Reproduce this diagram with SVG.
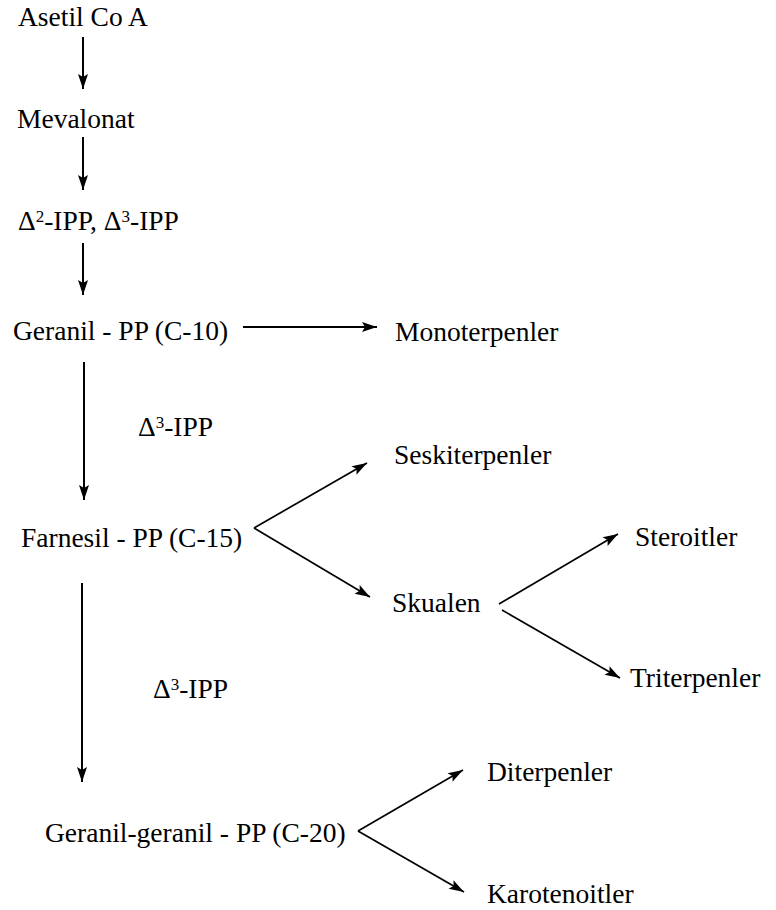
<svg xmlns="http://www.w3.org/2000/svg" width="776" height="910" viewBox="0 0 776 910">
<style>
text{font-family:"Liberation Serif","Times New Roman",serif;font-size:27.5px;fill:#000}
.sup{font-size:17px}
.c line{stroke:#000;stroke-width:2;fill:none}
.c line.d{stroke-width:1.7}
</style>
<defs>
<marker id="ah" markerUnits="userSpaceOnUse" markerWidth="16" markerHeight="12" refX="15" refY="5" orient="auto" overflow="visible">
<path d="M0,0 L15,5 L0,10 L3,5 z" fill="#000"/>
</marker>
</defs>
<rect width="776" height="910" fill="#fff"/>
<g class="c" id="connectors">
<line x1="83" y1="37" x2="83" y2="89" marker-end="url(#ah)"/>
<line x1="83" y1="137" x2="83" y2="190" marker-end="url(#ah)"/>
<line x1="83" y1="243" x2="83" y2="295" marker-end="url(#ah)"/>
<line x1="243" y1="327" x2="377" y2="327" marker-end="url(#ah)"/>
<line x1="84" y1="362" x2="84" y2="500" marker-end="url(#ah)"/>
<line class="d" x1="254" y1="528" x2="367" y2="463" marker-end="url(#ah)"/>
<line class="d" x1="254" y1="528" x2="370" y2="597" marker-end="url(#ah)"/>
<line class="d" x1="499" y1="604" x2="618" y2="534" marker-end="url(#ah)"/>
<line class="d" x1="502" y1="610" x2="620" y2="678" marker-end="url(#ah)"/>
<line x1="82" y1="583" x2="82" y2="782" marker-end="url(#ah)"/>
<line class="d" x1="358" y1="831" x2="463" y2="770" marker-end="url(#ah)"/>
<line class="d" x1="358" y1="831" x2="464" y2="892" marker-end="url(#ah)"/>
</g>
<g id="n-asetil"><text x="18" y="26">Asetil Co A</text></g>
<g id="n-mevalonat"><text x="17" y="128">Mevalonat</text></g>
<g id="n-ipp"><text x="18" y="230">Δ<tspan class="sup" dy="-8">2</tspan><tspan dy="8">-IPP, Δ</tspan><tspan class="sup" dy="-8">3</tspan><tspan dy="8">-IPP</tspan></text></g>
<g id="n-geranil"><text x="13" y="340">Geranil - PP (C-10)</text></g>
<g id="n-mono"><text x="395" y="341">Monoterpenler</text></g>
<g id="l-ipp1"><text x="138" y="436">Δ<tspan class="sup" dy="-8">3</tspan><tspan dy="8">-IPP</tspan></text></g>
<g id="n-farnesil"><text x="21" y="547">Farnesil - PP (C-15)</text></g>
<g id="n-seski"><text x="394" y="464">Seskiterpenler</text></g>
<g id="n-skualen"><text x="392" y="612">Skualen</text></g>
<g id="n-steroit"><text x="635" y="546">Steroitler</text></g>
<g id="n-triterp"><text x="630" y="687">Triterpenler</text></g>
<g id="l-ipp2"><text x="153" y="698">Δ<tspan class="sup" dy="-8">3</tspan><tspan dy="8">-IPP</tspan></text></g>
<g id="n-gg"><text x="45" y="842">Geranil-geranil - PP (C-20)</text></g>
<g id="n-diterp"><text x="487" y="781">Diterpenler</text></g>
<g id="n-karot"><text x="487" y="903">Karotenoitler</text></g>
</svg>
